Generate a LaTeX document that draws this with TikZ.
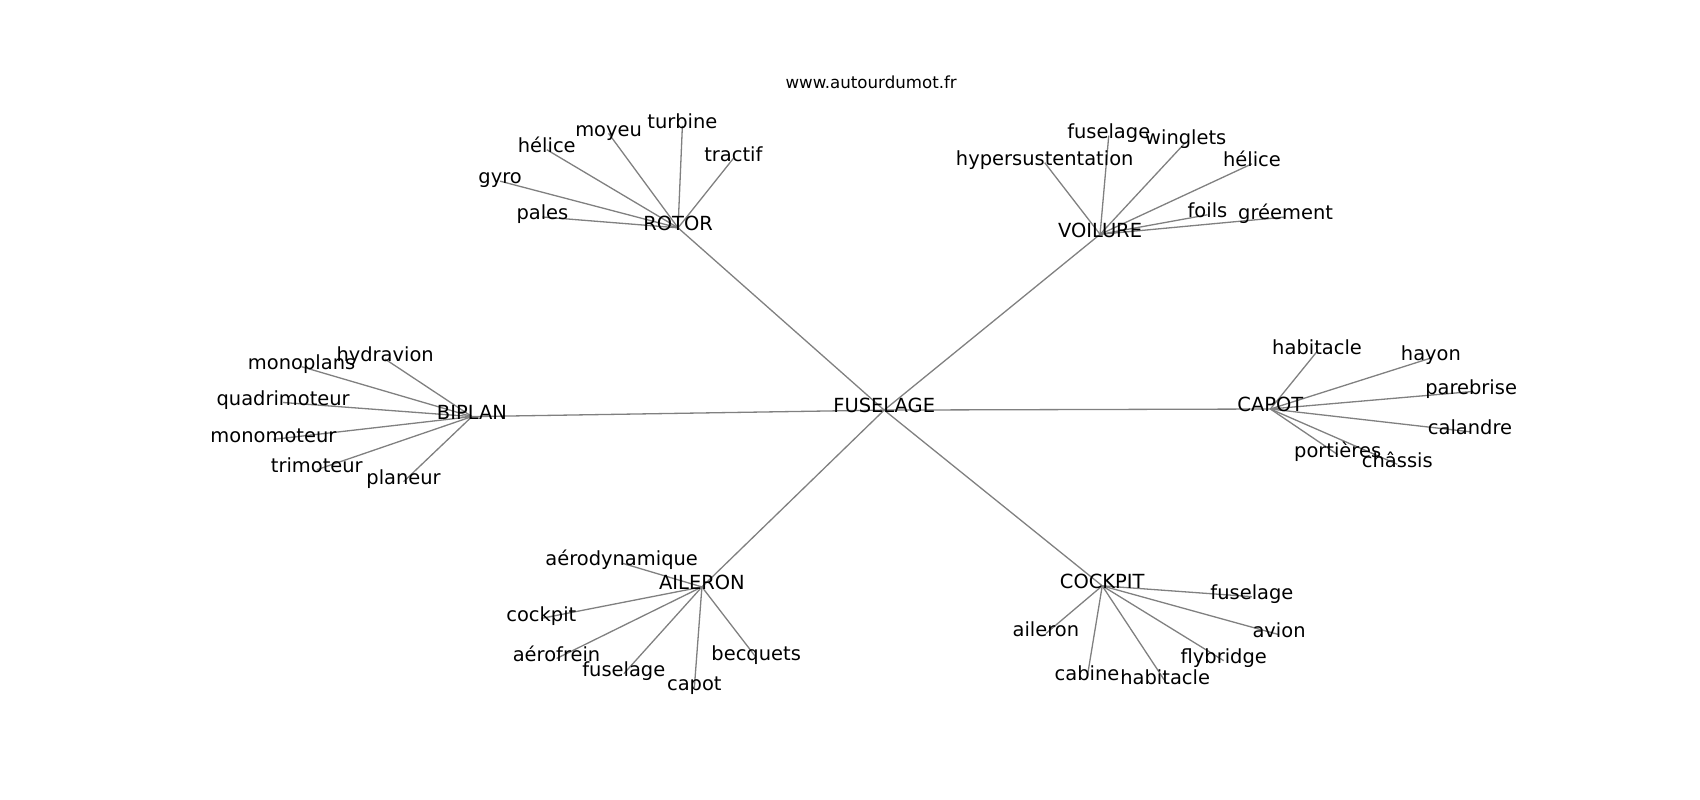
\documentclass[tikz,border=0pt]{standalone}
\usepackage{fontspec}
\setmainfont{DejaVu Sans}
\usetikzlibrary{backgrounds}
\begin{document}
\begin{tikzpicture}[x=1bp,y=-1bp,
  lbl/.style={font=\fontsize{18}{21}\selectfont, inner sep=0pt, text height=0.76em, text depth=0.24em},
  ttl/.style={font=\fontsize{15.4}{18}\selectfont, inner sep=0pt, text height=0.76em, text depth=0.24em},
  edge/.style={draw=gray, line width=1.2bp}]
\useasboundingbox (0,0) rectangle (1567,737);
\begin{scope}[shift={(0,3)}]
\node[ttl] (title) at (803,76) {www.autourdumot.fr};
% hubs
\node[lbl] (fus) at (815,375) {FUSELAGE};
\node[lbl] (rot) at (625,207) {ROTOR};
\node[lbl] (voi) at (1014,213) {VOILURE};
\node[lbl] (bip) at (435,381) {BIPLAN};
\node[lbl] (cap) at (1171,374) {CAPOT};
\node[lbl] (ail) at (647,538) {AILERON};
\node[lbl] (coc) at (1016,537) {COCKPIT};
% ROTOR leaves
\node[lbl] (r1) at (629,113) {turbine};
\node[lbl] (r2) at (561,120) {moyeu};
\node[lbl] (r3) at (504,135) {hélice};
\node[lbl] (r4) at (461,164) {gyro};
\node[lbl] (r5) at (500,197) {pales};
\node[lbl] (r6) at (676,143) {tractif};
% VOILURE leaves
\node[lbl] (v1) at (1022,122) {fuselage};
\node[lbl] (v2) at (1093,128) {winglets};
\node[lbl] (v3) at (963,147) {hypersustentation};
\node[lbl] (v4) at (1154,148) {hélice};
\node[lbl] (v5) at (1113,195) {foils};
\node[lbl] (v6) at (1185,197) {gréement};
% BIPLAN leaves
\node[lbl] (b1) at (355,328) {hydravion};
\node[lbl] (b2) at (278,335) {monoplans};
\node[lbl] (b3) at (261,368) {quadrimoteur};
\node[lbl] (b4) at (252,402) {monomoteur};
\node[lbl] (b5) at (292,430) {trimoteur};
\node[lbl] (b6) at (372,441) {planeur};
% CAPOT leaves
\node[lbl] (c1) at (1214,321) {habitacle};
\node[lbl] (c2) at (1319,327) {hayon};
\node[lbl] (c3) at (1356,358) {parebrise};
\node[lbl] (c4) at (1355,395) {calandre};
\node[lbl] (c5) at (1233,416) {portières};
\node[lbl] (c6) at (1288,425) {châssis};
% AILERON leaves
\node[lbl] (a1) at (573,516) {aérodynamique};
\node[lbl] (a2) at (499,567) {cockpit};
\node[lbl] (a3) at (513,604) {aérofrein};
\node[lbl] (a4) at (575,618) {fuselage};
\node[lbl] (a5) at (640,631) {capot};
\node[lbl] (a6) at (697,603) {becquets};
% COCKPIT leaves
\node[lbl] (k1) at (1154,547) {fuselage};
\node[lbl] (k2) at (1179,582) {avion};
\node[lbl] (k3) at (964,581) {aileron};
\node[lbl] (k4) at (1128,606) {flybridge};
\node[lbl] (k5) at (1002,622) {cabine};
\node[lbl] (k6) at (1074,625) {habitacle};
\end{scope}
\begin{scope}[on background layer]
\foreach \h in {rot,voi,bip,cap,ail,coc} \draw[edge] (fus.center) -- (\h.center);
\foreach \l in {r1,r2,r3,r4,r5,r6} \draw[edge] (rot.center) -- (\l.center);
\foreach \l in {v1,v2,v3,v4,v5,v6} \draw[edge] (voi.center) -- (\l.center);
\foreach \l in {b1,b2,b3,b4,b5,b6} \draw[edge] (bip.center) -- (\l.center);
\foreach \l in {c1,c2,c3,c4,c5,c6} \draw[edge] (cap.center) -- (\l.center);
\foreach \l in {a1,a2,a3,a4,a5,a6} \draw[edge] (ail.center) -- (\l.center);
\foreach \l in {k1,k2,k3,k4,k5,k6} \draw[edge] (coc.center) -- (\l.center);
\end{scope}
\end{tikzpicture}
\end{document}
